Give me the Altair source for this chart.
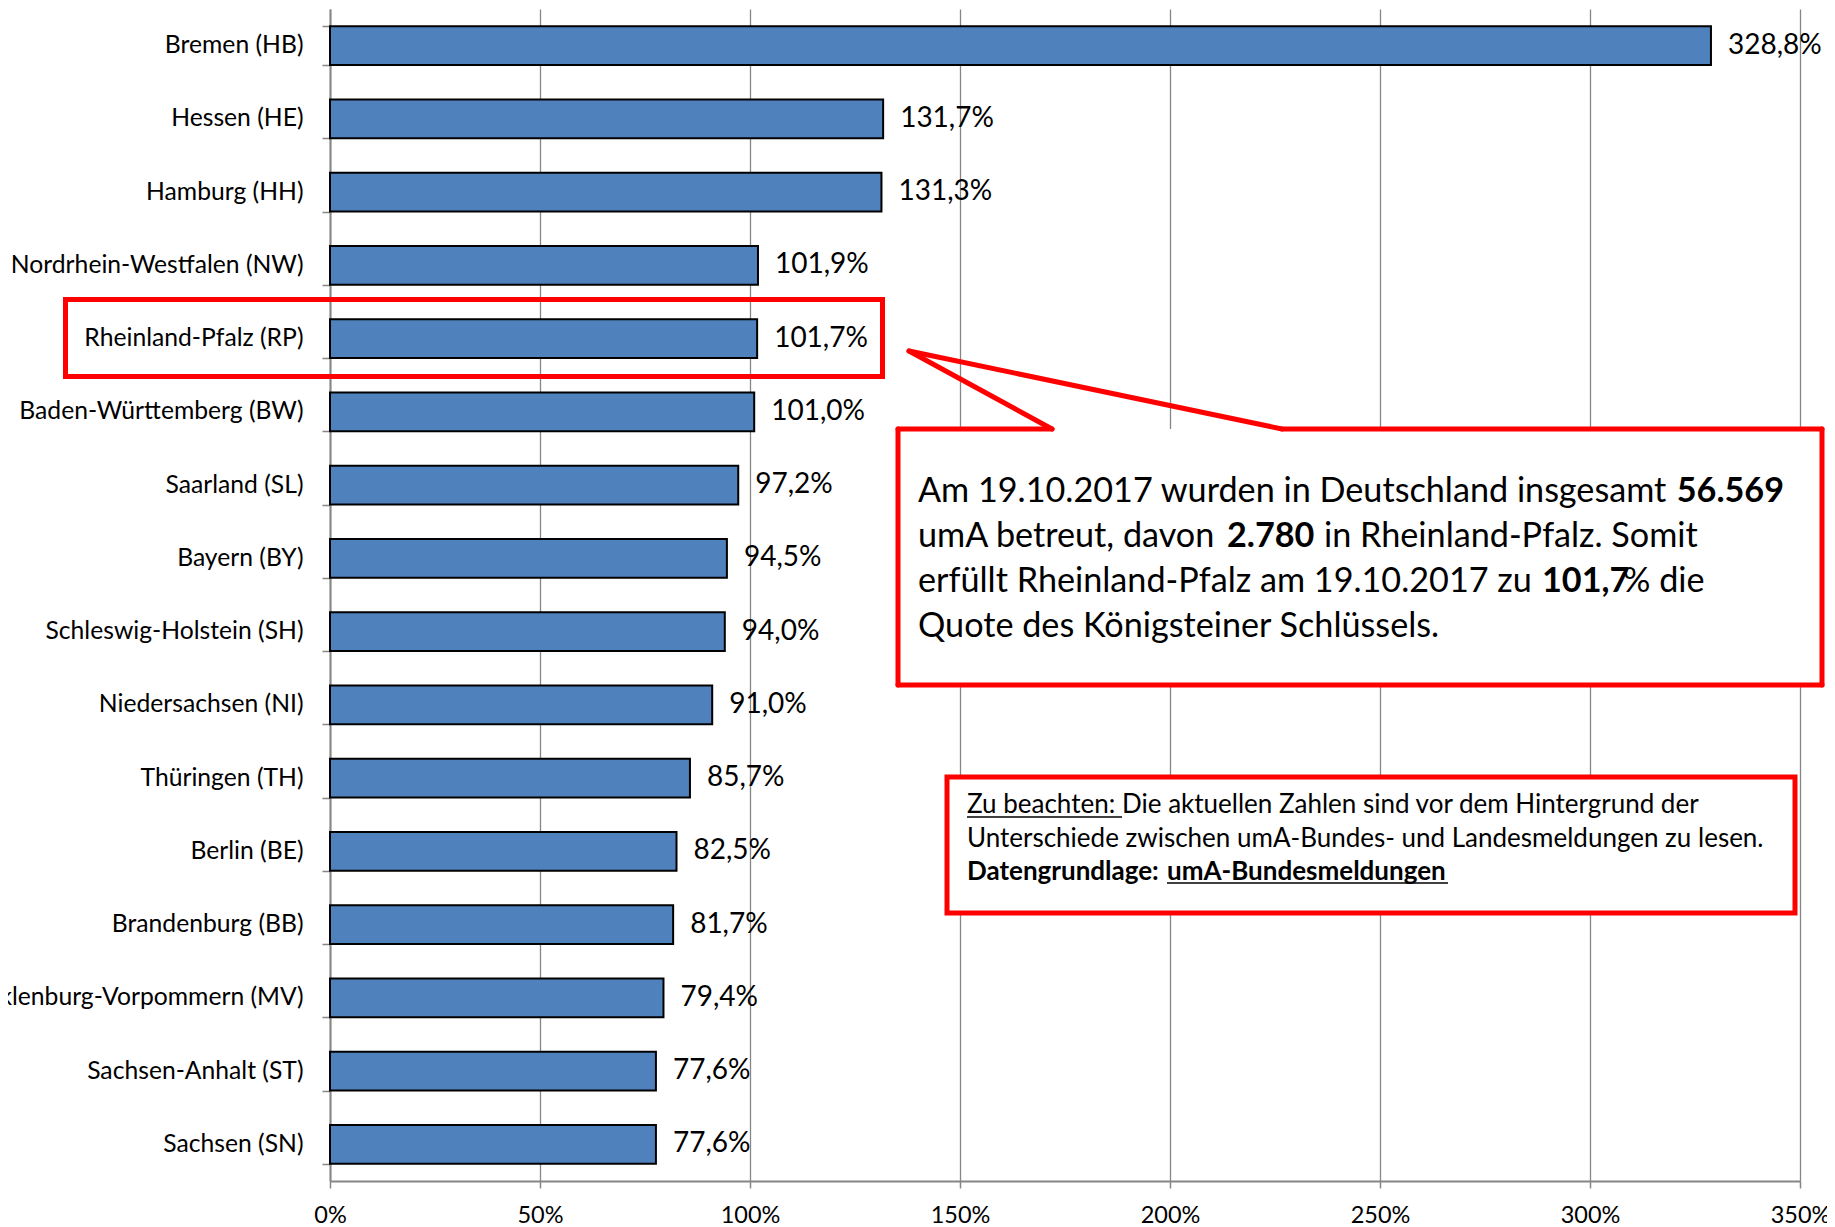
import altair as alt
import pandas as pd

# ---------------- data ----------------
states = [
    "Bremen (HB)", "Hessen (HE)", "Hamburg (HH)", "Nordrhein-Westfalen (NW)",
    "Rheinland-Pfalz (RP)", "Baden-Württemberg (BW)", "Saarland (SL)",
    "Bayern (BY)", "Schleswig-Holstein (SH)", "Niedersachsen (NI)",
    "Thüringen (TH)", "Berlin (BE)", "Brandenburg (BB)",
    "Mecklenburg-Vorpommern (MV)", "Sachsen-Anhalt (ST)", "Sachsen (SN)",
]
values = [328.8, 131.7, 131.3, 101.9, 101.7, 101.0, 97.2, 94.5, 94.0, 91.0,
          85.7, 82.5, 81.7, 79.4, 77.6, 77.6]
x_ticks = [0, 50, 100, 150, 200, 250, 300, 350]
labels = [f"{v:.1f}".replace(".", ",") + "%" for v in values]

df = pd.DataFrame({"state": states, "value": values, "label": labels})
one = pd.DataFrame({"k": [0]})

FONT = "Lato"
RED = "#FF0000"
GRAY = "#868686"
W, H = 1470, 1172

y_enc = alt.Y(
    "state:N", sort=states,
    scale=alt.Scale(paddingInner=0.468, paddingOuter=0.234),
    axis=alt.Axis(title=None, tickBand="extent", tickSize=8, tickColor=GRAY,
                  tickWidth=1.5, domainColor=GRAY, domainWidth=2,
                  labelFont=FONT, labelFontSize=24.7, labelColor="black",
                  labelPadding=19, labelLimit=0, grid=False),
)
x_enc = alt.X(
    "value:Q",
    scale=alt.Scale(domain=[0, 350], nice=False, zero=True),
    axis=alt.Axis(values=x_ticks, labelExpr="datum.value + '%'", title=None,
                  grid=True, gridColor=GRAY, gridWidth=1.3,
                  domainColor=GRAY, domainWidth=2, tickColor=GRAY,
                  tickWidth=1.5, tickSize=7, labelFont=FONT,
                  labelFontSize=23.5, labelColor="black", labelPadding=15,
                  labelFlush=False),
)

bars = alt.Chart(df).mark_bar(color="#4F81BD", stroke="black",
                              strokeWidth=2).encode(x=x_enc, y=y_enc)
vals = alt.Chart(df).mark_text(align="left", baseline="middle", dx=17,
                               font=FONT, fontSize=28, color="black").encode(
    x="value:Q", y=alt.Y("state:N", sort=states), text="label:N")


def rect(x, x2, y, y2, fill, stroke=RED, sw=5):
    return alt.Chart(one).mark_rect(fill=fill, stroke=stroke,
                                    strokeWidth=sw).encode(
        x=alt.value(x), x2=alt.value(x2), y=alt.value(y), y2=alt.value(y2))


def seg(x, y, x2, y2, color=RED, sw=5, cap="round"):
    return alt.Chart(one).mark_rule(color=color, strokeWidth=sw,
                                    strokeCap=cap).encode(
        x=alt.value(x), y=alt.value(y), x2=alt.value(x2), y2=alt.value(y2))


def txt(s, x, y, size, bold=False, align="left"):
    return alt.Chart(one).mark_text(
        text=s, align=align, baseline="middle", font=FONT, fontSize=size,
        fontWeight="bold" if bold else "normal", color="black").encode(
        x=alt.value(x), y=alt.value(y))


# highlight box around Rheinland-Pfalz
hl = rect(-264.5, 552.5, 290.5, 367.5, "transparent")

# callout box with pointer
cl, ct, cr, cb = 568, 420, 1492, 676
ax_, ay_ = 579, 342
b1, b2 = 722, 952
call_bg = rect(cl, cr, ct, cb, "white", stroke="white", sw=0)
call_lines = [
    seg(cl, ct, b1, ct), seg(b1, ct, ax_, ay_), seg(ax_, ay_, b2, ct),
    seg(b2, ct, cr, ct), seg(cr, ct, cr, cb), seg(cr, cb, cl, cb),
    seg(cl, cb, cl, ct),
]
CS = 34.2
call_txt = [
    txt("Am 19.10.2017 wurden in Deutschland insgesamt", 588, 483, CS),
    txt("56.569", 1454, 483, CS, bold=True, align="right"),
    txt("umA betreut, davon", 588, 528, CS),
    txt("2.780", 897, 528, CS, bold=True),
    txt("in Rheinland-Pfalz. Somit", 994, 528, CS),
    txt("erfüllt Rheinland-Pfalz am 19.10.2017 zu", 588, 573, CS),
    txt("101,7", 1212, 573, CS, bold=True),
    txt("% die", 1293, 573, CS),
    txt("Quote des Königsteiner Schlüssels.", 588, 618, CS),
]

# note box
note_bg = rect(617, 1465, 768, 904, "white")
NS = 26
note_txt = [
    txt("Zu beachten:", 637, 796, NS),
    txt("Die aktuellen Zahlen sind vor dem Hintergrund der", 792, 796, NS),
    txt("Unterschiede zwischen umA-Bundes- und Landesmeldungen zu lesen.",
        637, 830, NS),
    txt("Datengrundlage:", 637, 863, NS, bold=True),
    txt("umA-Bundesmeldungen", 837, 863, NS, bold=True),
]
note_ul = [
    seg(637, 808, 792, 808, color="black", sw=1.5, cap="butt"),
    seg(837, 874, 1118, 874, color="black", sw=1.5, cap="butt"),
]

layers = [bars, vals, hl, call_bg] + call_lines + call_txt + \
         [note_bg] + note_txt + note_ul

chart = alt.layer(*layers).properties(
    width=W, height=H,
    autosize=alt.AutoSizeParams(type="none"),
    padding={"left": 322, "top": 1, "right": 27, "bottom": 45},
    background="white",
).configure_view(stroke=None)

chart.save("out.html", embed_options={"renderer": "svg", "actions": False})
